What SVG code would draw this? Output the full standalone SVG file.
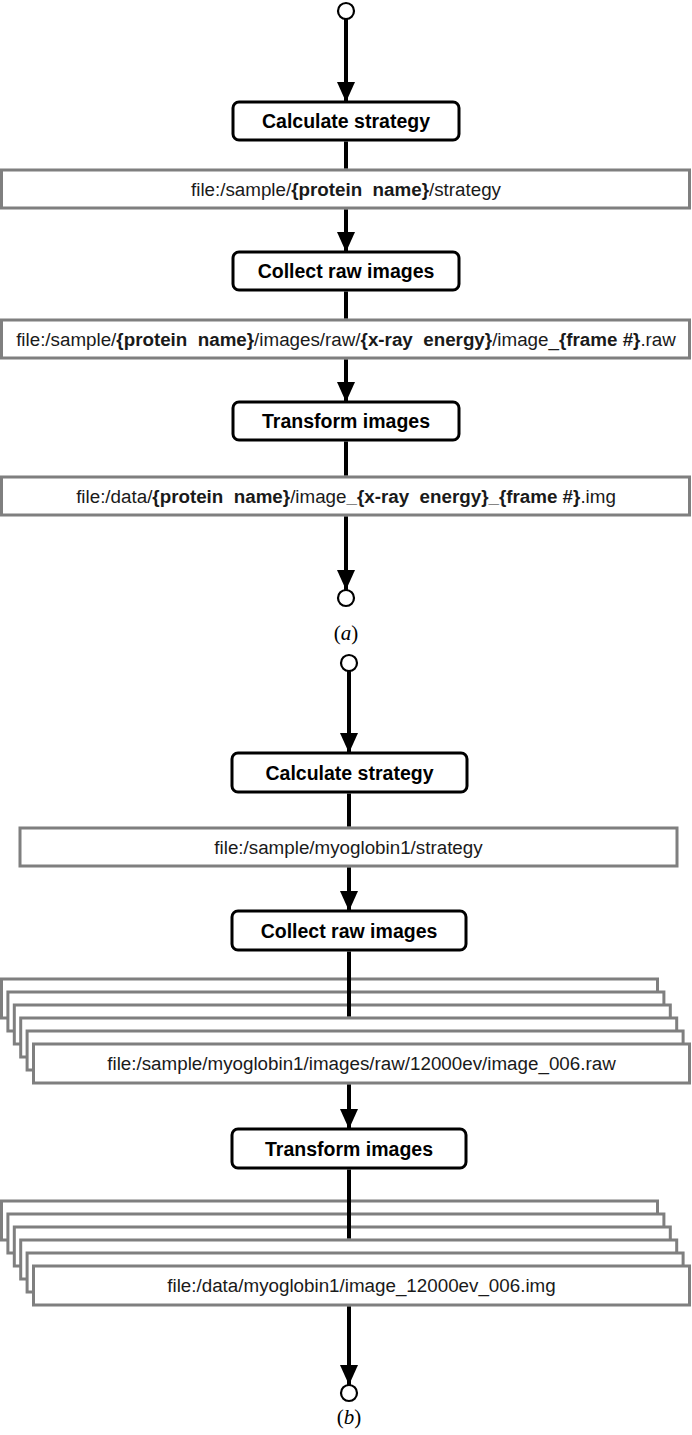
<svg xmlns="http://www.w3.org/2000/svg" width="692" height="1435" viewBox="0 0 692 1435">
<style>
.bg{fill:#ffffff}
.act{fill:#ffffff;stroke:#000000;stroke-width:3}
.file{fill:#ffffff;stroke:#7f7f7f;stroke-width:3}
.term{fill:#ffffff;stroke:#000000;stroke-width:2.2}
.conn{stroke:#000000;stroke-width:4;fill:none}
.lbl{font-family:"Liberation Sans",Arial,sans-serif;font-weight:bold;font-size:19.5px;fill:#000000;text-anchor:middle;dominant-baseline:central}
.ft{font-family:"Liberation Sans",Arial,sans-serif;font-size:18.8px;fill:#1a1a1a;text-anchor:middle;dominant-baseline:central;white-space:pre}
.ft .b{font-weight:bold}
.cap{font-family:"Liberation Serif","Times New Roman",serif;font-size:21px;fill:#000000;text-anchor:middle}
</style>
<defs>
<marker id="ah" markerUnits="userSpaceOnUse" viewBox="0 0 20 18" markerWidth="20" markerHeight="18" refX="20" refY="9" orient="auto">
<path d="M0,0 L20,9 L0,18 z" fill="#000000"/>
</marker>
</defs>
<rect class="bg" x="0" y="0" width="692" height="1435"/>

<!-- (a) nodes -->
<g id="a-start"><circle class="term" cx="346" cy="11" r="8"/></g>
<g id="a-calc"><rect class="act" x="233" y="102" width="226" height="38" rx="6"/><text class="lbl" x="346" y="121">Calculate strategy</text></g>
<g id="a-file1"><rect class="file" x="1.5" y="170" width="688" height="38"/><text class="ft" x="346" y="189" xml:space="preserve">file:/sample/<tspan class="b">{protein  name}</tspan>/strategy</text></g>
<g id="a-collect"><rect class="act" x="233" y="252" width="226" height="38" rx="6"/><text class="lbl" x="346" y="271">Collect raw images</text></g>
<g id="a-file2"><rect class="file" x="1.5" y="320" width="688" height="38"/><text class="ft" x="346" y="339" xml:space="preserve">file:/sample/<tspan class="b">{protein  name}</tspan>/images/raw/<tspan class="b">{x-ray  energy}</tspan>/image_<tspan class="b">{frame #}</tspan>.raw</text></g>
<g id="a-transform"><rect class="act" x="233" y="402" width="226" height="38" rx="6"/><text class="lbl" x="346" y="421">Transform images</text></g>
<g id="a-file3"><rect class="file" x="1.5" y="477" width="688" height="38"/><text class="ft" x="346" y="496" xml:space="preserve">file:/data/<tspan class="b">{protein  name}</tspan>/image<tspan class="b">_{x-ray  energy}_{frame #}</tspan>.img</text></g>
<g id="a-end"><circle class="term" cx="346" cy="598" r="8"/></g>
<text class="cap" x="346" y="640">(<tspan font-style="italic">a</tspan>)</text>

<!-- (b) nodes -->
<g id="b-start"><circle class="term" cx="349" cy="663" r="8"/></g>
<g id="b-calc"><rect class="act" x="232" y="753" width="235" height="39" rx="6"/><text class="lbl" x="349.5" y="772.5">Calculate strategy</text></g>
<g id="b-file1"><rect class="file" x="20" y="828" width="657" height="38"/><text class="ft" x="348.5" y="847">file:/sample/myoglobin1/strategy</text></g>
<g id="b-collect"><rect class="act" x="232" y="911" width="234" height="39" rx="6"/><text class="lbl" x="349" y="930.5">Collect raw images</text></g>
<g id="b-stack1">
<rect class="file" x="1.5" y="979" width="656" height="39"/>
<rect class="file" x="7.9" y="992" width="656" height="39"/>
<rect class="file" x="14.3" y="1005" width="656" height="39"/>
<rect class="file" x="20.7" y="1018" width="656" height="39"/>
<rect class="file" x="27.1" y="1031" width="656" height="39"/>
<rect class="file" x="33.5" y="1044" width="656" height="39"/>
<text class="ft" x="361.5" y="1063.5">file:/sample/myoglobin1/images/raw/12000ev/image_006.raw</text>
</g>
<g id="b-transform"><rect class="act" x="232" y="1129" width="234" height="39" rx="6"/><text class="lbl" x="349" y="1148.5">Transform images</text></g>
<g id="b-stack2">
<rect class="file" x="1.5" y="1201" width="656" height="39"/>
<rect class="file" x="7.9" y="1214" width="656" height="39"/>
<rect class="file" x="14.3" y="1227" width="656" height="39"/>
<rect class="file" x="20.7" y="1240" width="656" height="39"/>
<rect class="file" x="27.1" y="1253" width="656" height="39"/>
<rect class="file" x="33.5" y="1266" width="656" height="39"/>
<text class="ft" x="361.5" y="1285.5">file:/data/myoglobin1/image_12000ev_006.img</text>
</g>
<g id="b-end"><circle class="term" cx="349" cy="1393" r="8"/></g>
<text class="cap" x="349" y="1424">(<tspan font-style="italic">b</tspan>)</text>

<!-- connectors -->
<g id="connectors">
<line class="conn" x1="346" y1="19" x2="346" y2="102" marker-end="url(#ah)"/>
<line class="conn" x1="346" y1="141.5" x2="346" y2="168.5"/>
<line class="conn" x1="346" y1="209.5" x2="346" y2="252" marker-end="url(#ah)"/>
<line class="conn" x1="346" y1="291.5" x2="346" y2="318.5"/>
<line class="conn" x1="346" y1="359.5" x2="346" y2="402" marker-end="url(#ah)"/>
<line class="conn" x1="346" y1="441.5" x2="346" y2="475.5"/>
<line class="conn" x1="346" y1="516.5" x2="346" y2="590" marker-end="url(#ah)"/>
<line class="conn" x1="349" y1="671" x2="349" y2="753" marker-end="url(#ah)"/>
<line class="conn" x1="349" y1="793.5" x2="349" y2="826.5"/>
<line class="conn" x1="349" y1="867.5" x2="349" y2="911" marker-end="url(#ah)"/>
<line class="conn" x1="349" y1="951.5" x2="349" y2="1016.5"/>
<line class="conn" x1="349" y1="1084.5" x2="349" y2="1129" marker-end="url(#ah)"/>
<line class="conn" x1="349" y1="1169.5" x2="349" y2="1238.5"/>
<line class="conn" x1="349" y1="1306.5" x2="349" y2="1385" marker-end="url(#ah)"/>
</g>
</svg>
